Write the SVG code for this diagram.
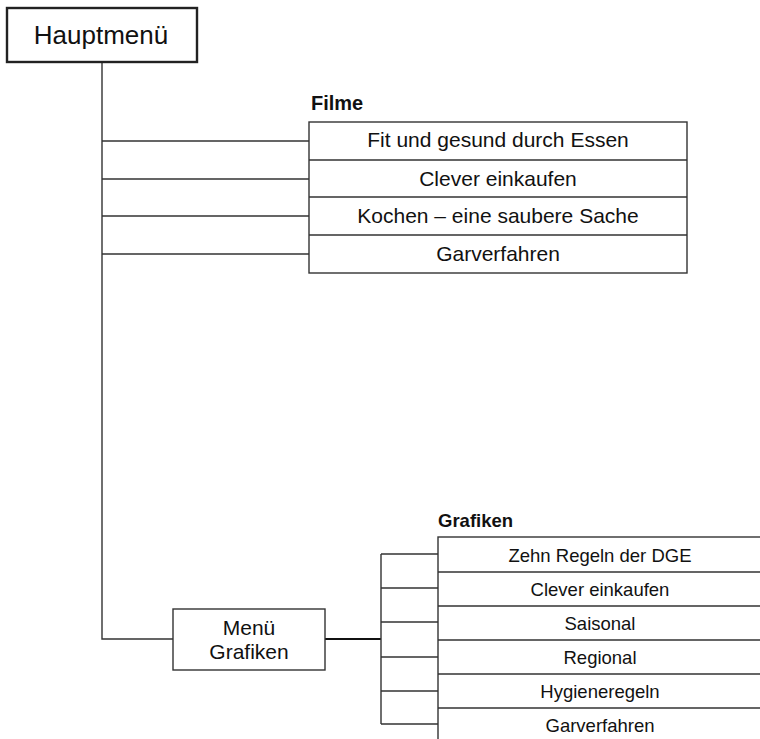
<svg xmlns="http://www.w3.org/2000/svg" width="760" height="739" viewBox="0 0 760 739">
<style>
text{font-family:"Liberation Sans",Arial,sans-serif;fill:#111}
.box{fill:#fff;stroke:#333;stroke-width:1.4}
.ln{fill:none;stroke:#333;stroke-width:1.4}
.t17{font-size:21px;text-anchor:middle}
.t15{font-size:18.5px;text-anchor:middle}
</style>
<g id="connectors">
<path class="ln" d="M102,62 V639 H173"/>
<path class="ln" d="M102,141 H309 M102,179 H309 M102,216 H309 M102,254 H309"/>
<path class="ln" d="M325,639 H381" style="stroke:#111;stroke-width:2.2"/>
<path class="ln" d="M381,554 V724 M381,554 H438 M381,588 H438 M381,622 H438 M381,657 H438 M381,691 H438 M381,724 H438"/>
</g>
<g id="hauptmenu">
<rect x="7" y="8" width="190" height="54" fill="#fff" stroke="#222" stroke-width="2.4"/>
<text x="101" y="44" font-size="26" text-anchor="middle">Hauptmenü</text>
</g>
<g id="filme">
<text x="311" y="110" font-size="20" font-weight="bold">Filme</text>
<rect class="box" x="309" y="122" width="378" height="151"/>
<path class="ln" d="M309,160 H687 M309,197 H687 M309,235 H687"/>
<text class="t17" x="498" y="147">Fit und gesund durch Essen</text>
<text class="t17" x="498" y="186">Clever einkaufen</text>
<text class="t17" x="498" y="223">Kochen – eine saubere Sache</text>
<text class="t17" x="498" y="261">Garverfahren</text>
</g>
<g id="menu-grafiken">
<rect class="box" x="173" y="609" width="152" height="61"/>
<text class="t17" x="249" y="635">Menü</text>
<text class="t17" x="249" y="659">Grafiken</text>
</g>
<g id="grafiken">
<text x="438" y="527" font-size="18.5" font-weight="bold">Grafiken</text>
<rect class="box" x="438" y="537" width="324" height="210"/>
<path class="ln" d="M438,572 H770 M438,606 H770 M438,640 H770 M438,674 H770 M438,708 H770"/>
<text class="t15" x="600" y="562">Zehn Regeln der DGE</text>
<text class="t15" x="600" y="596">Clever einkaufen</text>
<text class="t15" x="600" y="630">Saisonal</text>
<text class="t15" x="600" y="664">Regional</text>
<text class="t15" x="600" y="698">Hygieneregeln</text>
<text class="t15" x="600" y="732">Garverfahren</text>
</g>
</svg>
